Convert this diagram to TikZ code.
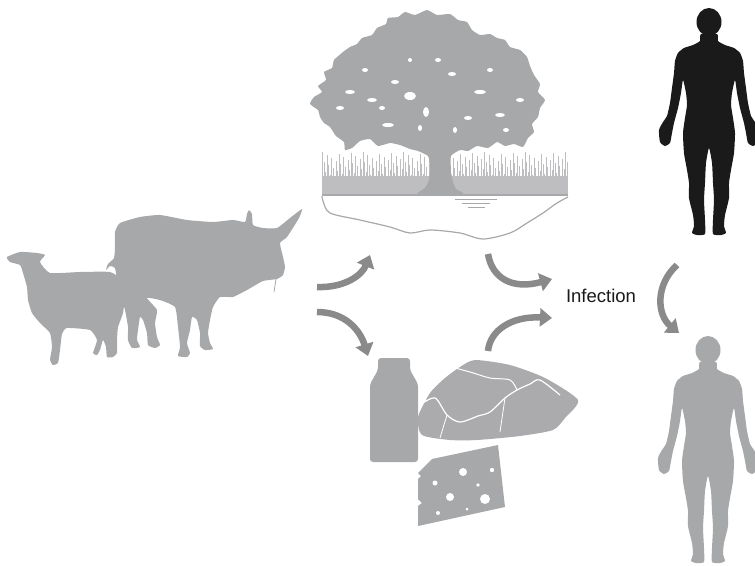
\documentclass[tikz,border=0pt]{standalone}
\usepackage{fontspec}
\setmainfont{Liberation Sans}
\usetikzlibrary{arrows.meta}
\definecolor{silh}{HTML}{A7A8AA}
\definecolor{meatgray}{HTML}{ABABAD}
\definecolor{grassgray}{HTML}{BEBEC0}
\definecolor{arrowgray}{HTML}{8A8A8A}
\definecolor{ink}{HTML}{1A1A1A}
\tikzset{
  flow/.style={draw=arrowgray, line width=6.5pt,
    -{Triangle[length=12pt,width=18pt]}},
  human/.pic={
    \fill[pic actions] plot[smooth cycle, tension=0.35] coordinates {
      (8,26) (9,33) (16,37) (25,40) (31,45) (34,53) (35,65) (37,80)
      (39,95) (42,108) (46,114) (50,122) (49,134) (44,138) (39,135)
      (37,125) (35,115) (31,100) (28,85) (26,72) (23,85) (22,97)
      (24,110) (26,125) (25,145) (22,162) (20,175) (20,190) (16,207)
      (15,218) (17,225) (12,227) (4,226) (4,212) (5,192) (4,175)
      (3,155) (0,140)
      (-3,155) (-4,175) (-5,192) (-4,212) (-4,226) (-12,227) (-17,225)
      (-15,218) (-16,207) (-20,190) (-20,175) (-22,162) (-25,145)
      (-26,125) (-24,110) (-22,97) (-23,85) (-26,72) (-28,85) (-31,100)
      (-35,115) (-37,125) (-39,135) (-44,138) (-49,134) (-50,122)
      (-46,114) (-42,108) (-39,95) (-37,80) (-35,65) (-34,53) (-31,45)
      (-25,40) (-16,37) (-9,33) (-8,26)};
    \fill[pic actions] (0,14) ellipse [x radius=12.5, y radius=14];
  }
}
\begin{document}
\begin{tikzpicture}[x=1pt,y=-1pt]
\useasboundingbox (0,0) rectangle (755,565);

% ---- sheep and ox ----
\fill[silh] plot[smooth cycle, tension=0.3] coordinates {
  (115,232) (120,223) (140,217) (160,215) (187,220) (213,222) (233,220)
  (245,222) (247,214) (249,210) (252,214) (253,225) (263,228) (277,228)
  (290,218) (302,209) (299,218) (287,237) (280,243) (283,257) (285,267)
  (283,275) (277,279) (263,281) (247,290) (233,297) (220,297) (213,307)
  (210,320) (208,333) (210,343) (213,349) (205,350) (200,346) (200,333)
  (197,320) (192,317) (190,330) (187,343) (190,353) (187,357) (178,356)
  (180,347) (178,327) (175,307) (160,300) (147,298) (157,310) (155,323)
  (157,337) (160,345) (155,348) (148,345) (147,333) (143,320) (140,317)
  (138,330) (137,340) (140,347) (132,348) (128,340) (128,327) (125,310)
  (120,293) (117,280) (115,268) (110,266) (106,270) (108,264) (114,258)
  (115,247)};
\draw[silh, line width=0.8pt] (276,279) -- (274,292);
\fill[silh] plot[smooth cycle, tension=0.3] coordinates {
  (7,257) (20,252) (37,253) (45,255) (40,262) (50,273) (80,272)
  (110,272) (122,280) (125,293) (123,313) (118,327) (117,340) (117,353)
  (113,357) (107,357) (106,347) (103,340) (100,350) (97,355) (93,353)
  (97,340) (90,330) (67,328) (62,334) (60,350) (58,363) (53,365)
  (50,360) (52,347) (50,333) (40,323) (32,313) (28,300) (27,287)
  (23,273) (20,265) (10,262)};

% ---- landscape: grass, tree, pond ----
\fill[grassgray] (322,176) rectangle (568,195);
\foreach \i in {0,...,163} {
  \pgfmathsetmacro\xx{322.5+1.5*\i}
  \pgfmathsetmacro\hh{152+mod(\i*37,27)}
  \draw[grassgray, line width=0.8pt] (\xx,195) -- (\xx,\hh);
}
\fill[silh] plot[smooth cycle, tension=0.3] coordinates {
  (318,110) (310,104) (314,97) (322,92) (318,86) (326,80) (324,72)
  (332,68) (334,60) (343,52) (350,47) (357,44) (362,38) (372,35)
  (377,28) (386,24) (388,18) (398,17) (405,12) (415,15) (427,10)
  (437,15) (450,14) (458,20) (467,22) (472,30) (480,35) (490,34)
  (497,38) (505,40) (510,47) (520,50) (527,57) (530,66) (534,75)
  (540,84) (538,92) (545,100) (540,108) (538,117) (532,124) (534,132)
  (528,138) (523,147) (514,144) (505,146) (497,142) (488,148) (477,146)
  (468,151) (460,150) (451,156) (451,172) (453,182) (456,189) (463,194)
  (418,194) (425,188) (429,180) (430,165) (428,156) (418,151) (410,149)
  (400,145) (390,143) (378,146) (370,139) (360,141) (352,148) (345,150)
  (344,142) (336,136) (330,127) (324,123) (320,117)};
\foreach \p/\rx/\ry in {
  {(372,100)}/5/2, {(395,82)}/4/2, {(410,96)}/6/4, {(426,112)}/3/5,
  {(452,74)}/4/2, {(480,92)}/6/2, {(500,115)}/5/2, {(350,92)}/5/2,
  {(438,60)}/3/2, {(468,118)}/4/2, {(520,100)}/4/2, {(388,125)}/6/2,
  {(410,60)}/2/2, {(490,70)}/3/2, {(455,130)}/2/3, {(365,70)}/3/2,
  {(340,108)}/4/2, {(506,130)}/3/2, {(420,128)}/2/3, {(382,108)}/3/2}
  \fill[white] \p ellipse [x radius=\rx, y radius=\ry];
\draw[silh, line width=1.2pt] (322,195) -- (568,195);
\draw[silh, line width=1.2pt] plot[smooth, tension=0.5] coordinates {
  (322,196) (323,201) (330,213) (360,220) (390,227) (410,233) (430,230)
  (460,233) (483,239) (510,233) (527,223) (543,213) (557,203) (568,197)};
\draw[silh, line width=1pt] (455,199) -- (497,199) (462,203) -- (490,203)
  (468,207) -- (485,207);

% ---- dairy and meat ----
\fill[silh, rounded corners=3pt] (378,358) -- (410,358) -- (410,370)
  -- (418,384) -- (418,462) -- (370,462) -- (370,384) -- (378,370) -- cycle;
\fill[meatgray] plot[smooth cycle, tension=0.4] coordinates {
  (430,393) (445,378) (460,367) (475,360) (510,365) (545,378) (578,400)
  (565,418) (553,430) (520,436) (477,440) (450,440) (422,435) (418,417)};
\draw[white, line width=1.2pt] plot[smooth, tension=0.5] coordinates {
  (420,405) (435,398) (447,415) (460,422) (478,416) (490,412) (505,398)
  (517,390) (530,384) (540,380) (560,395)};
\draw[white, line width=1pt] plot[smooth, tension=0.5] coordinates {
  (455,368) (470,372) (490,378) (510,380) (517,390)};
\draw[white, line width=0.8pt] (505,398) -- (500,432) (447,415) -- (440,438);
\fill[silh] (432,459) -- (498,445) -- (505,507) -- (418,526) -- (418,506)
  -- (422,503) -- (418,499) -- (418,479) -- (421,476) -- (418,473) -- cycle;
\foreach \p/\r in {{(463,472)}/4, {(492,470)}/2.2, {(435,483)}/2.5,
  {(478,485)}/1.8, {(450,497)}/4, {(485,499)}/5, {(467,509)}/1.5,
  {(438,513)}/2}
  \fill[white] \p circle [radius=\r];

% ---- people ----
\pic[fill=ink] (top) at (709,8) {human};
\pic[fill=silh] (bottom) at (708,336) {human};

% ---- label and connectors ----
\node[text=ink, font=\fontsize{18.5}{22}\selectfont, inner sep=0pt]
  (infect) at (601,296) {Infection};
\coordinate (herdA) at (317,287);
\coordinate (herdB) at (317,312);
\coordinate (treeIn) at (370,255);
\coordinate (foodIn) at (368,356);
\coordinate (treeOut) at (488,254);
\coordinate (foodOut) at (488,351);
\coordinate (infA) at (552,279);
\coordinate (infB) at (552,318);
\coordinate (sickOut) at (677,265);
\coordinate (sickIn) at (679,333);
\draw[flow] (herdA) .. controls (345,288) and (362,275) .. (treeIn);
\draw[flow] (herdB) .. controls (345,312) and (360,330) .. (foodIn);
\draw[flow] (treeOut) .. controls (492,278) and (512,290) .. (infA);
\draw[flow] (foodOut) .. controls (490,330) and (512,316) .. (infB);
\draw[flow] (sickOut) .. controls (655,285) and (657,315) .. (sickIn);
\end{tikzpicture}
\end{document}
